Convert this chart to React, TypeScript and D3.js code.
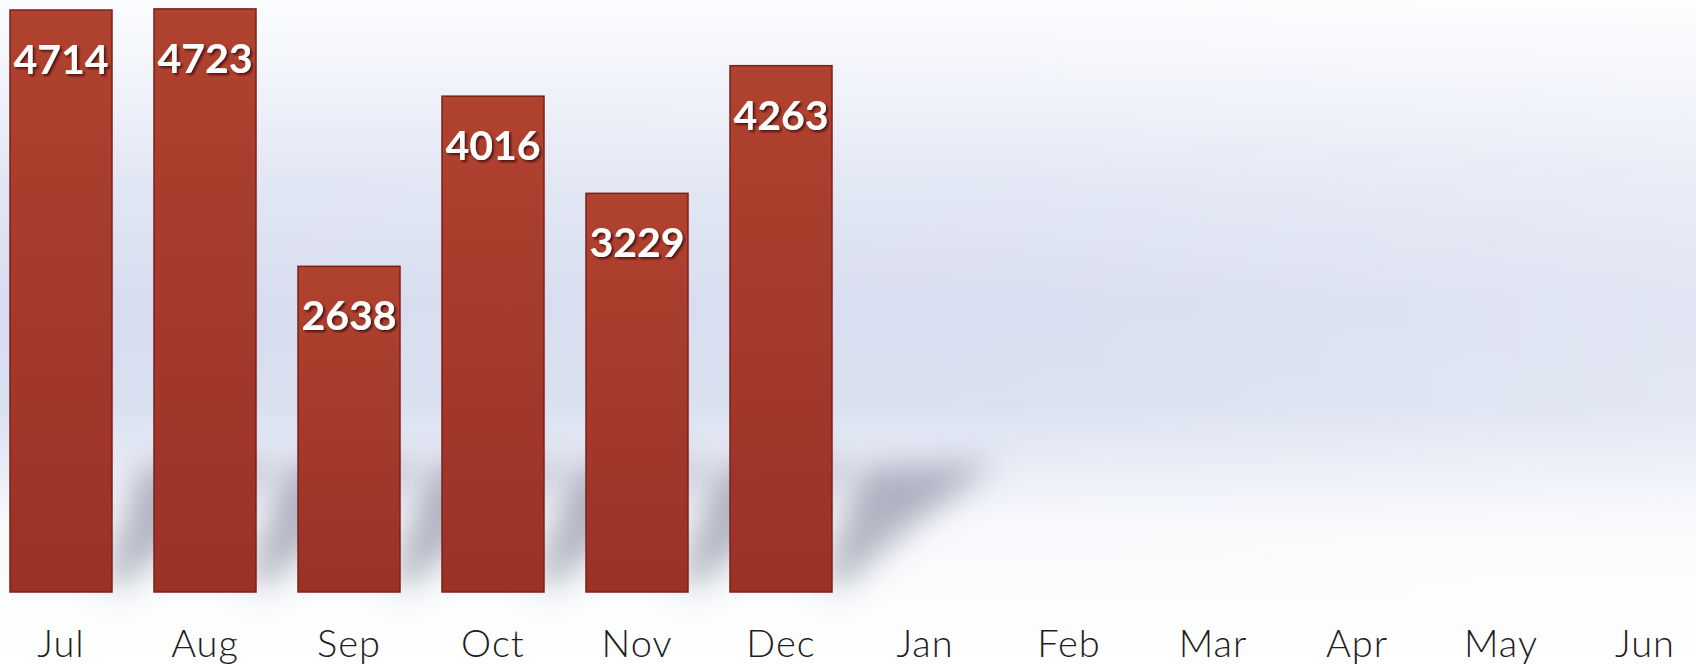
import React, { useEffect, useRef } from 'react';
import * as d3 from 'd3';

const months = ['Jul', 'Aug', 'Sep', 'Oct', 'Nov', 'Dec', 'Jan', 'Feb', 'Mar', 'Apr', 'May', 'Jun'];
const barMonths = ['Jul', 'Aug', 'Sep', 'Oct', 'Nov', 'Dec'];
const barValues = [4714, 4723, 2638, 4016, 3229, 4263];

export default function App() {
  const ref = useRef<SVGSVGElement>(null);
  const width = 1696;
  const height = 671;

  useEffect(() => {
    const svg = d3.select(ref.current);
    svg.selectAll('*').remove();
    svg.attr('width', width).attr('height', height);

    const defs = svg.append('defs');

    // background wash
    const bg = defs.append('linearGradient').attr('id', 'bg').attr('x1', 0).attr('y1', 0).attr('x2', 0).attr('y2', 1);
    [[0, '#fbfcfe'], [0.1, '#f3f5fb'], [0.28, '#e1e6f4'], [0.45, '#d7ddef'], [0.6, '#d8dfef'], [0.7, '#e9edf7'], [0.78, '#f8f9fc'], [1, '#ffffff']]
      .forEach(([o, c]) => bg.append('stop').attr('offset', o as number).attr('stop-color', c as string));

    const side = defs.append('linearGradient').attr('id', 'side').attr('x1', 0).attr('y1', 0).attr('x2', 1).attr('y2', 0);
    side.append('stop').attr('offset', 0).attr('stop-color', '#ffffff').attr('stop-opacity', 0);
    side.append('stop').attr('offset', 0.6).attr('stop-color', '#ffffff').attr('stop-opacity', 0.05);
    side.append('stop').attr('offset', 1).attr('stop-color', '#ffffff').attr('stop-opacity', 0.25);

    const barGrad = defs.append('linearGradient').attr('id', 'bar').attr('x1', 0).attr('y1', 0).attr('x2', 0).attr('y2', 1);
    barGrad.append('stop').attr('offset', 0).attr('stop-color', '#b0432f');
    barGrad.append('stop').attr('offset', 0.6).attr('stop-color', '#a3382a');
    barGrad.append('stop').attr('offset', 1).attr('stop-color', '#9b3226');

    const blur = defs.append('filter').attr('id', 'blur').attr('x', '-50%').attr('y', '-50%').attr('width', '200%').attr('height', '200%');
    blur.append('feGaussianBlur').attr('stdDeviation', 16);

    const txtShadow = defs.append('filter').attr('id', 'tshadow').attr('x', '-20%').attr('y', '-20%').attr('width', '140%').attr('height', '140%');
    txtShadow.append('feDropShadow').attr('dx', 2).attr('dy', 2).attr('stdDeviation', 1).attr('flood-color', '#4a0e08').attr('flood-opacity', 0.9);

    svg.append('rect').attr('width', width).attr('height', height).attr('fill', 'url(#bg)');
    svg.append('rect').attr('width', width).attr('height', height).attr('fill', 'url(#side)');

    const x = d3.scaleBand<string>().domain(months).range([10, 1696]).paddingInner(0.2917).paddingOuter(0);
    const y = d3.scaleLinear().domain([0, 4795]).range([592, 0]);

    // soft cast shadows behind bars
    svg.append('g').attr('filter', 'url(#blur)')
      .selectAll('path')
      .data(barMonths)
      .join('path')
      .attr('d', (m) => {
        const x1 = (x(m) as number) + x.bandwidth();
        const b = y(0);
        return `M${x1 - 10},${b - 10} L${x1 + 30},${b - 125} L${x1 + 165},${b - 130} L${x1 + 60},${b - 50} L${x1 + 10},${b - 5} Z`;
      })
      .attr('fill', '#6a7088')
      .attr('opacity', 0.5);

    svg.append('g')
      .selectAll('rect')
      .data(barValues)
      .join('rect')
      .attr('x', (_, i) => x(barMonths[i]) as number)
      .attr('y', (d) => y(d))
      .attr('width', x.bandwidth())
      .attr('height', (d) => y(0) - y(d))
      .attr('fill', 'url(#bar)')
      .attr('stroke', '#7c2017')
      .attr('stroke-width', 1.5);

    svg.append('g')
      .selectAll('text')
      .data(barValues)
      .join('text')
      .attr('x', (_, i) => (x(barMonths[i]) as number) + x.bandwidth() / 2)
      .attr('y', (d) => y(d) + 64)
      .attr('text-anchor', 'middle')
      .attr('font-family', 'Lato, "DejaVu Sans", sans-serif')
      .attr('font-weight', 'bold')
      .attr('font-size', 41)
      .attr('fill', '#ffffff')
      .attr('filter', 'url(#tshadow)')
      .text((d) => d);

    svg.append('g')
      .selectAll('text')
      .data(months)
      .join('text')
      .attr('x', (m) => (x(m) as number) + x.bandwidth() / 2)
      .attr('y', 657)
      .attr('text-anchor', 'middle')
      .attr('font-family', 'Lato, "DejaVu Sans", sans-serif')
      .attr('font-weight', 300)
      .attr('font-size', 38)
      .attr('letter-spacing', 1)
      .attr('fill', '#1e1e1e')
      .text((m) => m);
  }, []);

  return <svg ref={ref} style={{ position: 'absolute', left: 0, top: 0, display: 'block' }}></svg>;
}
